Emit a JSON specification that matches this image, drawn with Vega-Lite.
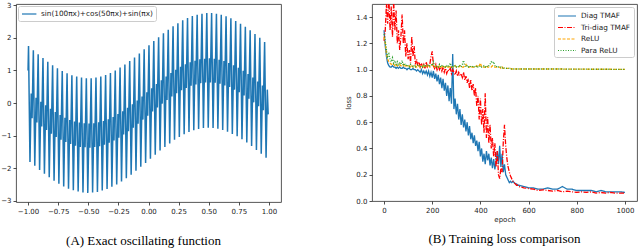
{
"$schema":"https://vega.github.io/schema/vega-lite/v6.json",
"background":"white",
"padding":{"left":0,"top":0,"right":2,"bottom":0},
"bounds":"flush",
"spacing":91,
"resolve":{"scale":{"color":"independent","strokeDash":"independent"},"legend":{"color":"independent","strokeDash":"independent"}},
"config":{
"view":{"stroke":"#444","strokeWidth":0.9},
"axis":{"labelFont":"DejaVu Sans","labelFontSize":7,"labelColor":"#222","tickColor":"#222","tickSize":3,"tickWidth":0.8,"labelPadding":2,"labelOverlap":false,"domain":false,"grid":false,"titleFont":"DejaVu Sans","titleFontSize":7,"titleFontWeight":"normal","titleColor":"#222"},
"legend":{"symbolStrokeWidth":1.2,"labelFont":"DejaVu Sans","labelFontSize":7.3,"labelColor":"#222","strokeColor":"#cccccc","fillColor":"white","cornerRadius":2,"padding":3,"offset":3,"rowPadding":1.5},
"title":{"font":"Liberation Serif","fontSize":13,"fontWeight":"normal","color":"#000"}
},
"hconcat":[
{
"width":265,"height":198,
"title":{"text":"(A) Exact oscillating function","orient":"bottom","frame":"group","anchor":"middle","dx":-5,"offset":21},
"data":{"values":[
{"x":-1,"y":1.00},{"x":-0.996,"y":1.75},{"x":-0.984,"y":-1.81},{"x":-0.9736,"y":0.29},{"x":-0.9664,"y":-0.47},
{"x":-0.96,"y":0.87},{"x":-0.956,"y":1.62},{"x":-0.944,"y":-1.93},{"x":-0.9336,"y":0.16},{"x":-0.9264,"y":-0.60},
{"x":-0.92,"y":0.75},{"x":-0.916,"y":1.50},{"x":-0.904,"y":-2.06},{"x":-0.8936,"y":0.04},{"x":-0.8864,"y":-0.72},
{"x":-0.88,"y":0.63},{"x":-0.876,"y":1.38},{"x":-0.864,"y":-2.17},{"x":-0.8536,"y":-0.07},{"x":-0.8464,"y":-0.83},
{"x":-0.84,"y":0.52},{"x":-0.836,"y":1.27},{"x":-0.824,"y":-2.28},{"x":-0.8136,"y":-0.18},{"x":-0.8064,"y":-0.94},
{"x":-0.8,"y":0.41},{"x":-0.796,"y":1.16},{"x":-0.784,"y":-2.39},{"x":-0.7736,"y":-0.28},{"x":-0.7664,"y":-1.04},
{"x":-0.76,"y":0.32},{"x":-0.756,"y":1.07},{"x":-0.744,"y":-2.48},{"x":-0.7336,"y":-0.37},{"x":-0.7264,"y":-1.13},
{"x":-0.72,"y":0.23},{"x":-0.716,"y":0.98},{"x":-0.704,"y":-2.56},{"x":-0.6936,"y":-0.45},{"x":-0.6864,"y":-1.20},
{"x":-0.68,"y":0.16},{"x":-0.676,"y":0.91},{"x":-0.664,"y":-2.63},{"x":-0.6536,"y":-0.52},{"x":-0.6464,"y":-1.26},
{"x":-0.64,"y":0.10},{"x":-0.636,"y":0.85},{"x":-0.624,"y":-2.68},{"x":-0.6136,"y":-0.57},{"x":-0.6064,"y":-1.31},
{"x":-0.6,"y":0.05},{"x":-0.596,"y":0.81},{"x":-0.584,"y":-2.72},{"x":-0.5736,"y":-0.60},{"x":-0.5664,"y":-1.35},
{"x":-0.56,"y":0.02},{"x":-0.556,"y":0.78},{"x":-0.544,"y":-2.75},{"x":-0.5336,"y":-0.62},{"x":-0.5264,"y":-1.36},
{"x":-0.52,"y":0.00},{"x":-0.516,"y":0.76},{"x":-0.504,"y":-2.76},{"x":-0.4936,"y":-0.63},{"x":-0.4864,"y":-1.37},
{"x":-0.48,"y":0.00},{"x":-0.476,"y":0.76},{"x":-0.464,"y":-2.75},{"x":-0.4536,"y":-0.62},{"x":-0.4464,"y":-1.35},
{"x":-0.44,"y":0.02},{"x":-0.436,"y":0.78},{"x":-0.424,"y":-2.73},{"x":-0.4136,"y":-0.59},{"x":-0.4064,"y":-1.33},
{"x":-0.4,"y":0.05},{"x":-0.396,"y":0.81},{"x":-0.384,"y":-2.69},{"x":-0.3736,"y":-0.55},{"x":-0.3664,"y":-1.28},
{"x":-0.36,"y":0.10},{"x":-0.356,"y":0.86},{"x":-0.344,"y":-2.64},{"x":-0.3336,"y":-0.50},{"x":-0.3264,"y":-1.22},
{"x":-0.32,"y":0.16},{"x":-0.316,"y":0.92},{"x":-0.304,"y":-2.57},{"x":-0.2936,"y":-0.43},{"x":-0.2864,"y":-1.15},
{"x":-0.28,"y":0.23},{"x":-0.276,"y":1.00},{"x":-0.264,"y":-2.50},{"x":-0.2536,"y":-0.34},{"x":-0.2464,"y":-1.07},
{"x":-0.24,"y":0.32},{"x":-0.236,"y":1.09},{"x":-0.224,"y":-2.41},{"x":-0.2136,"y":-0.25},{"x":-0.2064,"y":-0.97},
{"x":-0.2,"y":0.41},{"x":-0.196,"y":1.18},{"x":-0.184,"y":-2.31},{"x":-0.1736,"y":-0.15},{"x":-0.1664,"y":-0.87},
{"x":-0.16,"y":0.52},{"x":-0.156,"y":1.29},{"x":-0.144,"y":-2.20},{"x":-0.1336,"y":-0.04},{"x":-0.1264,"y":-0.76},
{"x":-0.12,"y":0.63},{"x":-0.116,"y":1.40},{"x":-0.104,"y":-2.08},{"x":-0.0936,"y":0.08},{"x":-0.0864,"y":-0.64},
{"x":-0.08,"y":0.75},{"x":-0.076,"y":1.52},{"x":-0.064,"y":-1.96},{"x":-0.0536,"y":0.20},{"x":-0.0464,"y":-0.51},
{"x":-0.04,"y":0.87},{"x":-0.036,"y":1.65},{"x":-0.024,"y":-1.84},{"x":-0.0136,"y":0.33},{"x":-0.0064,"y":-0.39},
{"x":0,"y":1.00},{"x":0.004,"y":1.77},{"x":0.016,"y":-1.71},{"x":0.0264,"y":0.45},{"x":0.0336,"y":-0.26},
{"x":0.04,"y":1.13},{"x":0.044,"y":1.90},{"x":0.056,"y":-1.59},{"x":0.0664,"y":0.58},{"x":0.0736,"y":-0.14},
{"x":0.08,"y":1.25},{"x":0.084,"y":2.02},{"x":0.096,"y":-1.46},{"x":0.1064,"y":0.70},{"x":0.1136,"y":-0.02},
{"x":0.12,"y":1.37},{"x":0.124,"y":2.14},{"x":0.136,"y":-1.35},{"x":0.1464,"y":0.81},{"x":0.1536,"y":0.09},
{"x":0.16,"y":1.48},{"x":0.164,"y":2.25},{"x":0.176,"y":-1.24},{"x":0.1864,"y":0.92},{"x":0.1936,"y":0.20},
{"x":0.2,"y":1.59},{"x":0.204,"y":2.36},{"x":0.216,"y":-1.13},{"x":0.2264,"y":1.02},{"x":0.2336,"y":0.30},
{"x":0.24,"y":1.68},{"x":0.244,"y":2.45},{"x":0.256,"y":-1.04},{"x":0.2664,"y":1.11},{"x":0.2736,"y":0.39},
{"x":0.28,"y":1.77},{"x":0.284,"y":2.54},{"x":0.296,"y":-0.96},{"x":0.3064,"y":1.19},{"x":0.3136,"y":0.46},
{"x":0.32,"y":1.84},{"x":0.324,"y":2.61},{"x":0.336,"y":-0.89},{"x":0.3464,"y":1.25},{"x":0.3536,"y":0.53},
{"x":0.36,"y":1.90},{"x":0.364,"y":2.67},{"x":0.376,"y":-0.84},{"x":0.3864,"y":1.30},{"x":0.3936,"y":0.57},
{"x":0.4,"y":1.95},{"x":0.404,"y":2.71},{"x":0.416,"y":-0.80},{"x":0.4264,"y":1.34},{"x":0.4336,"y":0.61},
{"x":0.44,"y":1.98},{"x":0.444,"y":2.74},{"x":0.456,"y":-0.77},{"x":0.4664,"y":1.36},{"x":0.4736,"y":0.63},
{"x":0.48,"y":2.00},{"x":0.484,"y":2.76},{"x":0.496,"y":-0.76},{"x":0.5064,"y":1.37},{"x":0.5136,"y":0.63},
{"x":0.52,"y":2.00},{"x":0.524,"y":2.76},{"x":0.536,"y":-0.77},{"x":0.5464,"y":1.36},{"x":0.5536,"y":0.62},
{"x":0.56,"y":1.98},{"x":0.564,"y":2.74},{"x":0.576,"y":-0.79},{"x":0.5864,"y":1.33},{"x":0.5936,"y":0.59},
{"x":0.6,"y":1.95},{"x":0.604,"y":2.71},{"x":0.616,"y":-0.83},{"x":0.6264,"y":1.29},{"x":0.6336,"y":0.54},
{"x":0.64,"y":1.90},{"x":0.644,"y":2.66},{"x":0.656,"y":-0.88},{"x":0.6664,"y":1.23},{"x":0.6736,"y":0.49},
{"x":0.68,"y":1.84},{"x":0.684,"y":2.60},{"x":0.696,"y":-0.95},{"x":0.7064,"y":1.16},{"x":0.7136,"y":0.41},
{"x":0.72,"y":1.77},{"x":0.724,"y":2.52},{"x":0.736,"y":-1.02},{"x":0.7464,"y":1.08},{"x":0.7536,"y":0.33},
{"x":0.76,"y":1.68},{"x":0.764,"y":2.43},{"x":0.776,"y":-1.11},{"x":0.7864,"y":0.99},{"x":0.7936,"y":0.23},
{"x":0.8,"y":1.59},{"x":0.804,"y":2.34},{"x":0.816,"y":-1.21},{"x":0.8264,"y":0.89},{"x":0.8336,"y":0.13},
{"x":0.84,"y":1.48},{"x":0.844,"y":2.23},{"x":0.856,"y":-1.32},{"x":0.8664,"y":0.78},{"x":0.8736,"y":0.02},
{"x":0.88,"y":1.37},{"x":0.884,"y":2.12},{"x":0.896,"y":-1.44},{"x":0.9064,"y":0.66},{"x":0.9136,"y":-0.10},
{"x":0.92,"y":1.25},{"x":0.924,"y":2.00},{"x":0.936,"y":-1.56},{"x":0.9464,"y":0.54},{"x":0.9536,"y":-0.22},
{"x":0.96,"y":1.13},{"x":0.964,"y":1.87},{"x":0.976,"y":-1.68},{"x":0.9864,"y":0.41},{"x":0.9936,"y":-0.35}
]},
"mark":{"type":"line","strokeWidth":1.5,"clip":true},
"encoding":{
"x":{"field":"x","type":"quantitative","scale":{"domain":[-1.1,1.1],"nice":false,"zero":false},"axis":{"values":[-1,-0.75,-0.5,-0.25,0,0.25,0.5,0.75,1],"format":".2f","title":null,"labelOverlap":false}},
"y":{"field":"y","type":"quantitative","scale":{"domain":[-3.04,3.04],"nice":false},"axis":{"values":[-3,-2,-1,0,1,2,3],"format":"d","title":null,"labelOverlap":false}},
"color":{"datum":"sin(100πx)+cos(50πx)+sin(πx)","scale":{"range":["#1f77b4"]},"legend":{"orient":"top-left","title":null,"offset":2,"symbolType":"M-1,0H2.6","symbolSize":64,"labelOffset":10}}
}
},
{
"width":265,"height":197,
"title":{"text":"(B) Training loss comparison","orient":"bottom","frame":"group","anchor":"middle","offset":11},
"data":{"values":[
{"e":0,"d":1.30,"t":1.22,"r":1.25,"p":1.27},
{"e":5,"d":1.18,"t":1.30,"r":1.20,"p":1.22},
{"e":10,"d":1.10,"t":1.50,"r":1.12,"p":1.15},
{"e":15,"d":1.05,"t":1.35,"r":1.08,"p":1.10},
{"e":20,"d":1.03,"t":1.55,"r":1.06,"p":1.12},
{"e":25,"d":1.02,"t":1.30,"r":1.05,"p":1.08},
{"e":30,"d":1.02,"t":1.48,"r":1.04,"p":1.06},
{"e":35,"d":1.03,"t":1.25,"r":1.05,"p":1.09},
{"e":40,"d":1.02,"t":1.52,"r":1.04,"p":1.05},
{"e":45,"d":1.02,"t":1.30,"r":1.03,"p":1.07},
{"e":50,"d":1.01,"t":1.45,"r":1.04,"p":1.04},
{"e":55,"d":1.02,"t":1.20,"r":1.03,"p":1.06},
{"e":60,"d":1.01,"t":1.30,"r":1.03,"p":1.03},
{"e":65,"d":1.02,"t":1.15,"r":1.04,"p":1.05},
{"e":70,"d":1.01,"t":1.25,"r":1.03,"p":1.04},
{"e":75,"d":1.01,"t":1.42,"r":1.03,"p":1.07},
{"e":80,"d":1.02,"t":1.20,"r":1.04,"p":1.03},
{"e":85,"d":1.01,"t":1.30,"r":1.02,"p":1.05},
{"e":90,"d":1.01,"t":1.10,"r":1.03,"p":1.03},
{"e":95,"d":1.00,"t":1.20,"r":1.03,"p":1.04},
{"e":100,"d":1.01,"t":1.08,"r":1.02,"p":1.03},
{"e":105,"d":1.01,"t":1.15,"r":1.03,"p":1.02},
{"e":110,"d":1.00,"t":1.05,"r":1.02,"p":1.04},
{"e":115,"d":1.00,"t":1.25,"r":1.03,"p":1.03},
{"e":120,"d":1.01,"t":1.10,"r":1.02,"p":1.02},
{"e":125,"d":1.00,"t":1.18,"r":1.02,"p":1.03},
{"e":130,"d":1.00,"t":1.04,"r":1.03,"p":1.02},
{"e":135,"d":0.99,"t":1.08,"r":1.02,"p":1.03},
{"e":140,"d":1.00,"t":1.03,"r":1.02,"p":1.04},
{"e":145,"d":0.99,"t":1.06,"r":1.03,"p":1.03},
{"e":150,"d":0.98,"t":1.02,"r":1.02,"p":1.02},
{"e":155,"d":1.00,"t":1.05,"r":1.02,"p":1.03},
{"e":160,"d":0.97,"t":1.02,"r":1.03,"p":1.02},
{"e":165,"d":0.99,"t":1.04,"r":1.02,"p":1.04},
{"e":170,"d":0.97,"t":1.01,"r":1.02,"p":1.02},
{"e":175,"d":0.99,"t":1.06,"r":1.03,"p":1.03},
{"e":180,"d":0.96,"t":1.02,"r":1.02,"p":1.03},
{"e":185,"d":0.99,"t":1.03,"r":1.03,"p":1.04},
{"e":190,"d":0.95,"t":1.04,"r":1.02,"p":1.03},
{"e":195,"d":0.98,"t":1.10,"r":1.03,"p":1.04},
{"e":200,"d":0.94,"t":1.14,"r":1.04,"p":1.03},
{"e":205,"d":0.99,"t":1.03,"r":1.02,"p":1.06},
{"e":210,"d":0.93,"t":1.01,"r":1.02,"p":1.03},
{"e":215,"d":0.97,"t":1.04,"r":1.03,"p":1.02},
{"e":220,"d":0.91,"t":1.00,"r":1.02,"p":1.03},
{"e":225,"d":0.96,"t":1.03,"r":1.02,"p":1.02},
{"e":230,"d":0.89,"t":1.00,"r":1.03,"p":1.04},
{"e":235,"d":0.94,"t":1.02,"r":1.02,"p":1.02},
{"e":240,"d":0.86,"t":0.99,"r":1.02,"p":1.03},
{"e":245,"d":0.93,"t":1.02,"r":1.03,"p":1.02},
{"e":250,"d":0.84,"t":0.98,"r":1.02,"p":1.03},
{"e":255,"d":0.90,"t":1.01,"r":1.02,"p":1.02},
{"e":260,"d":0.80,"t":0.97,"r":1.03,"p":1.03},
{"e":265,"d":0.88,"t":1.00,"r":1.02,"p":1.02},
{"e":270,"d":0.76,"t":0.99,"r":1.02,"p":1.03},
{"e":275,"d":0.86,"t":1.01,"r":1.03,"p":1.05},
{"e":280,"d":0.74,"t":0.97,"r":1.02,"p":1.02},
{"e":285,"d":1.12,"t":1.00,"r":1.02,"p":1.03},
{"e":290,"d":0.70,"t":0.98,"r":1.02,"p":1.02},
{"e":295,"d":0.78,"t":0.96,"r":1.03,"p":1.03},
{"e":300,"d":0.66,"t":0.99,"r":1.02,"p":1.02},
{"e":305,"d":0.74,"t":0.95,"r":1.02,"p":1.03},
{"e":310,"d":0.62,"t":0.98,"r":1.02,"p":1.02},
{"e":315,"d":0.70,"t":0.96,"r":1.03,"p":1.03},
{"e":320,"d":0.58,"t":0.97,"r":1.02,"p":1.02},
{"e":325,"d":0.66,"t":0.94,"r":1.02,"p":1.04},
{"e":330,"d":0.56,"t":0.98,"r":1.02,"p":1.07},
{"e":335,"d":0.62,"t":0.92,"r":1.03,"p":1.03},
{"e":340,"d":0.53,"t":0.95,"r":1.04,"p":1.02},
{"e":345,"d":0.60,"t":0.90,"r":1.02,"p":1.03},
{"e":350,"d":0.50,"t":0.93,"r":1.02,"p":1.02},
{"e":355,"d":0.57,"t":0.86,"r":1.02,"p":1.03},
{"e":360,"d":0.47,"t":0.92,"r":1.03,"p":1.02},
{"e":365,"d":0.52,"t":0.84,"r":1.02,"p":1.02},
{"e":370,"d":0.44,"t":0.89,"r":1.02,"p":1.03},
{"e":375,"d":0.50,"t":0.80,"r":1.02,"p":1.02},
{"e":380,"d":0.42,"t":0.86,"r":1.02,"p":1.02},
{"e":385,"d":0.46,"t":0.72,"r":1.03,"p":1.03},
{"e":390,"d":0.38,"t":0.80,"r":1.02,"p":1.02},
{"e":395,"d":0.45,"t":0.62,"r":1.03,"p":1.02},
{"e":400,"d":0.34,"t":0.78,"r":1.05,"p":1.03},
{"e":405,"d":0.40,"t":0.58,"r":1.02,"p":1.02},
{"e":410,"d":0.30,"t":0.70,"r":1.02,"p":1.02},
{"e":415,"d":0.36,"t":0.52,"r":1.02,"p":1.03},
{"e":420,"d":0.28,"t":0.82,"r":1.02,"p":1.02},
{"e":425,"d":0.38,"t":0.48,"r":1.03,"p":1.03},
{"e":430,"d":0.31,"t":0.64,"r":1.02,"p":1.02},
{"e":435,"d":0.36,"t":0.44,"r":1.02,"p":1.03},
{"e":440,"d":0.27,"t":0.58,"r":1.02,"p":1.04},
{"e":445,"d":0.33,"t":0.40,"r":1.02,"p":1.06},
{"e":450,"d":0.25,"t":0.48,"r":1.03,"p":1.05},
{"e":455,"d":0.32,"t":0.34,"r":1.02,"p":1.06},
{"e":460,"d":0.24,"t":0.44,"r":1.02,"p":1.03},
{"e":465,"d":0.30,"t":0.26,"r":1.02,"p":1.02},
{"e":470,"d":0.38,"t":0.38,"r":1.02,"p":1.03},
{"e":475,"d":0.28,"t":0.20,"r":1.02,"p":1.02},
{"e":480,"d":0.42,"t":0.17,"r":1.02,"p":1.02},
{"e":485,"d":0.26,"t":0.25,"r":1.01,"p":1.02},
{"e":490,"d":0.36,"t":0.22,"r":1.02,"p":1.01},
{"e":495,"d":0.22,"t":0.45,"r":1.01,"p":1.02},
{"e":500,"d":0.28,"t":0.58,"r":1.01,"p":1.01},
{"e":505,"d":0.20,"t":0.42,"r":1.01,"p":1.01},
{"e":510,"d":0.18,"t":0.32,"r":1.01,"p":1.01},
{"e":515,"d":0.16,"t":0.26,"r":1.01,"p":1.01},
{"e":520,"d":0.14,"t":0.22,"r":1.01,"p":1.01},
{"e":525,"d":0.15,"t":0.19,"r":1.01,"p":1.005},
{"e":530,"d":0.14,"t":0.17,"r":1.005,"p":1.005},
{"e":535,"d":0.15,"t":0.15,"r":1.005,"p":1.005},
{"e":540,"d":0.14,"t":0.14,"r":1.005,"p":1.005},
{"e":545,"d":0.13,"t":0.13,"r":1.005,"p":1.005},
{"e":550,"d":0.13,"t":0.12,"r":1.005,"p":1.005},
{"e":555,"d":0.12,"t":0.12,"r":1.005,"p":1.005},
{"e":560,"d":0.12,"t":0.11,"r":1.005,"p":1.005},
{"e":580,"d":0.11,"t":0.10,"r":1.005,"p":1.005},
{"e":600,"d":0.10,"t":0.095,"r":1.005,"p":1.005},
{"e":620,"d":0.10,"t":0.09,"r":1.005,"p":1.005},
{"e":640,"d":0.09,"t":0.08,"r":1.005,"p":1.005},
{"e":660,"d":0.09,"t":0.085,"r":1.005,"p":1.005},
{"e":680,"d":0.10,"t":0.08,"r":1.005,"p":1.005},
{"e":700,"d":0.09,"t":0.075,"r":1.005,"p":1.005},
{"e":720,"d":0.09,"t":0.08,"r":1.005,"p":1.005},
{"e":740,"d":0.11,"t":0.07,"r":1.005,"p":1.005},
{"e":760,"d":0.09,"t":0.075,"r":1.004,"p":1.004},
{"e":780,"d":0.09,"t":0.07,"r":1.004,"p":1.004},
{"e":800,"d":0.08,"t":0.065,"r":1.004,"p":1.004},
{"e":820,"d":0.08,"t":0.07,"r":1.004,"p":1.004},
{"e":840,"d":0.08,"t":0.065,"r":1.004,"p":1.004},
{"e":860,"d":0.08,"t":0.07,"r":1.003,"p":1.003},
{"e":880,"d":0.07,"t":0.06,"r":1.003,"p":1.003},
{"e":900,"d":0.08,"t":0.065,"r":1.003,"p":1.003},
{"e":920,"d":0.07,"t":0.06,"r":1.003,"p":1.003},
{"e":940,"d":0.07,"t":0.065,"r":1.003,"p":1.003},
{"e":960,"d":0.07,"t":0.06,"r":1.002,"p":1.002},
{"e":980,"d":0.07,"t":0.06,"r":1.002,"p":1.002},
{"e":1000,"d":0.065,"t":0.06,"r":1.002,"p":1.002}
]},
"encoding":{
"x":{"field":"e","type":"quantitative","scale":{"domain":[-50,1050],"nice":false,"zero":false},"axis":{"values":[0,200,400,600,800,1000],"format":"d","title":"epoch","titlePadding":2,"labelOverlap":false}}
},
"layer":[
{"mark":{"type":"line","strokeWidth":1.3,"clip":true},
"encoding":{
"y":{"field":"d","type":"quantitative","title":"loss","scale":{"domain":[0,1.5],"nice":false},"axis":{"values":[0,0.2,0.4,0.6,0.8,1.0,1.2,1.4],"format":".1f","titlePadding":4,"labelOverlap":false}},
"color":{"datum":"Diag TMAF","scale":{"domain":["Diag TMAF","Tri-diag TMAF","ReLU","Para ReLU"],"range":["#1f77b4","#ff0000","#ffa500","#2ca02c"]},"legend":{"orient":"top-right","title":null,"symbolType":"M-1,0H2.6","symbolSize":100,"labelOffset":12}},
"strokeDash":{"datum":"Diag TMAF","scale":{"domain":["Diag TMAF","Tri-diag TMAF","ReLU","Para ReLU"],"range":[[1,0],[5,1.5,1,1.5],[3,1.5],[1,1.5]]},"legend":{"orient":"top-right","title":null,"symbolType":"M-1,0H2.6","symbolSize":100,"labelOffset":12}}
}},
{"mark":{"type":"line","strokeWidth":1.3,"clip":true},
"encoding":{
"y":{"field":"t","type":"quantitative","title":"loss","axis":{"values":[0,0.2,0.4,0.6,0.8,1.0,1.2,1.4],"format":".1f","titlePadding":4,"labelOverlap":false}},
"color":{"datum":"Tri-diag TMAF"},
"strokeDash":{"datum":"Tri-diag TMAF"}
}},
{"mark":{"type":"line","strokeWidth":1.3,"clip":true},
"encoding":{
"y":{"field":"r","type":"quantitative","title":"loss","axis":{"values":[0,0.2,0.4,0.6,0.8,1.0,1.2,1.4],"format":".1f","titlePadding":4,"labelOverlap":false}},
"color":{"datum":"ReLU"},
"strokeDash":{"datum":"ReLU"}
}},
{"mark":{"type":"line","strokeWidth":1.3,"clip":true},
"encoding":{
"y":{"field":"p","type":"quantitative","title":"loss","axis":{"values":[0,0.2,0.4,0.6,0.8,1.0,1.2,1.4],"format":".1f","titlePadding":4,"labelOverlap":false}},
"color":{"datum":"Para ReLU"},
"strokeDash":{"datum":"Para ReLU"}
}}
]
}
]
}
